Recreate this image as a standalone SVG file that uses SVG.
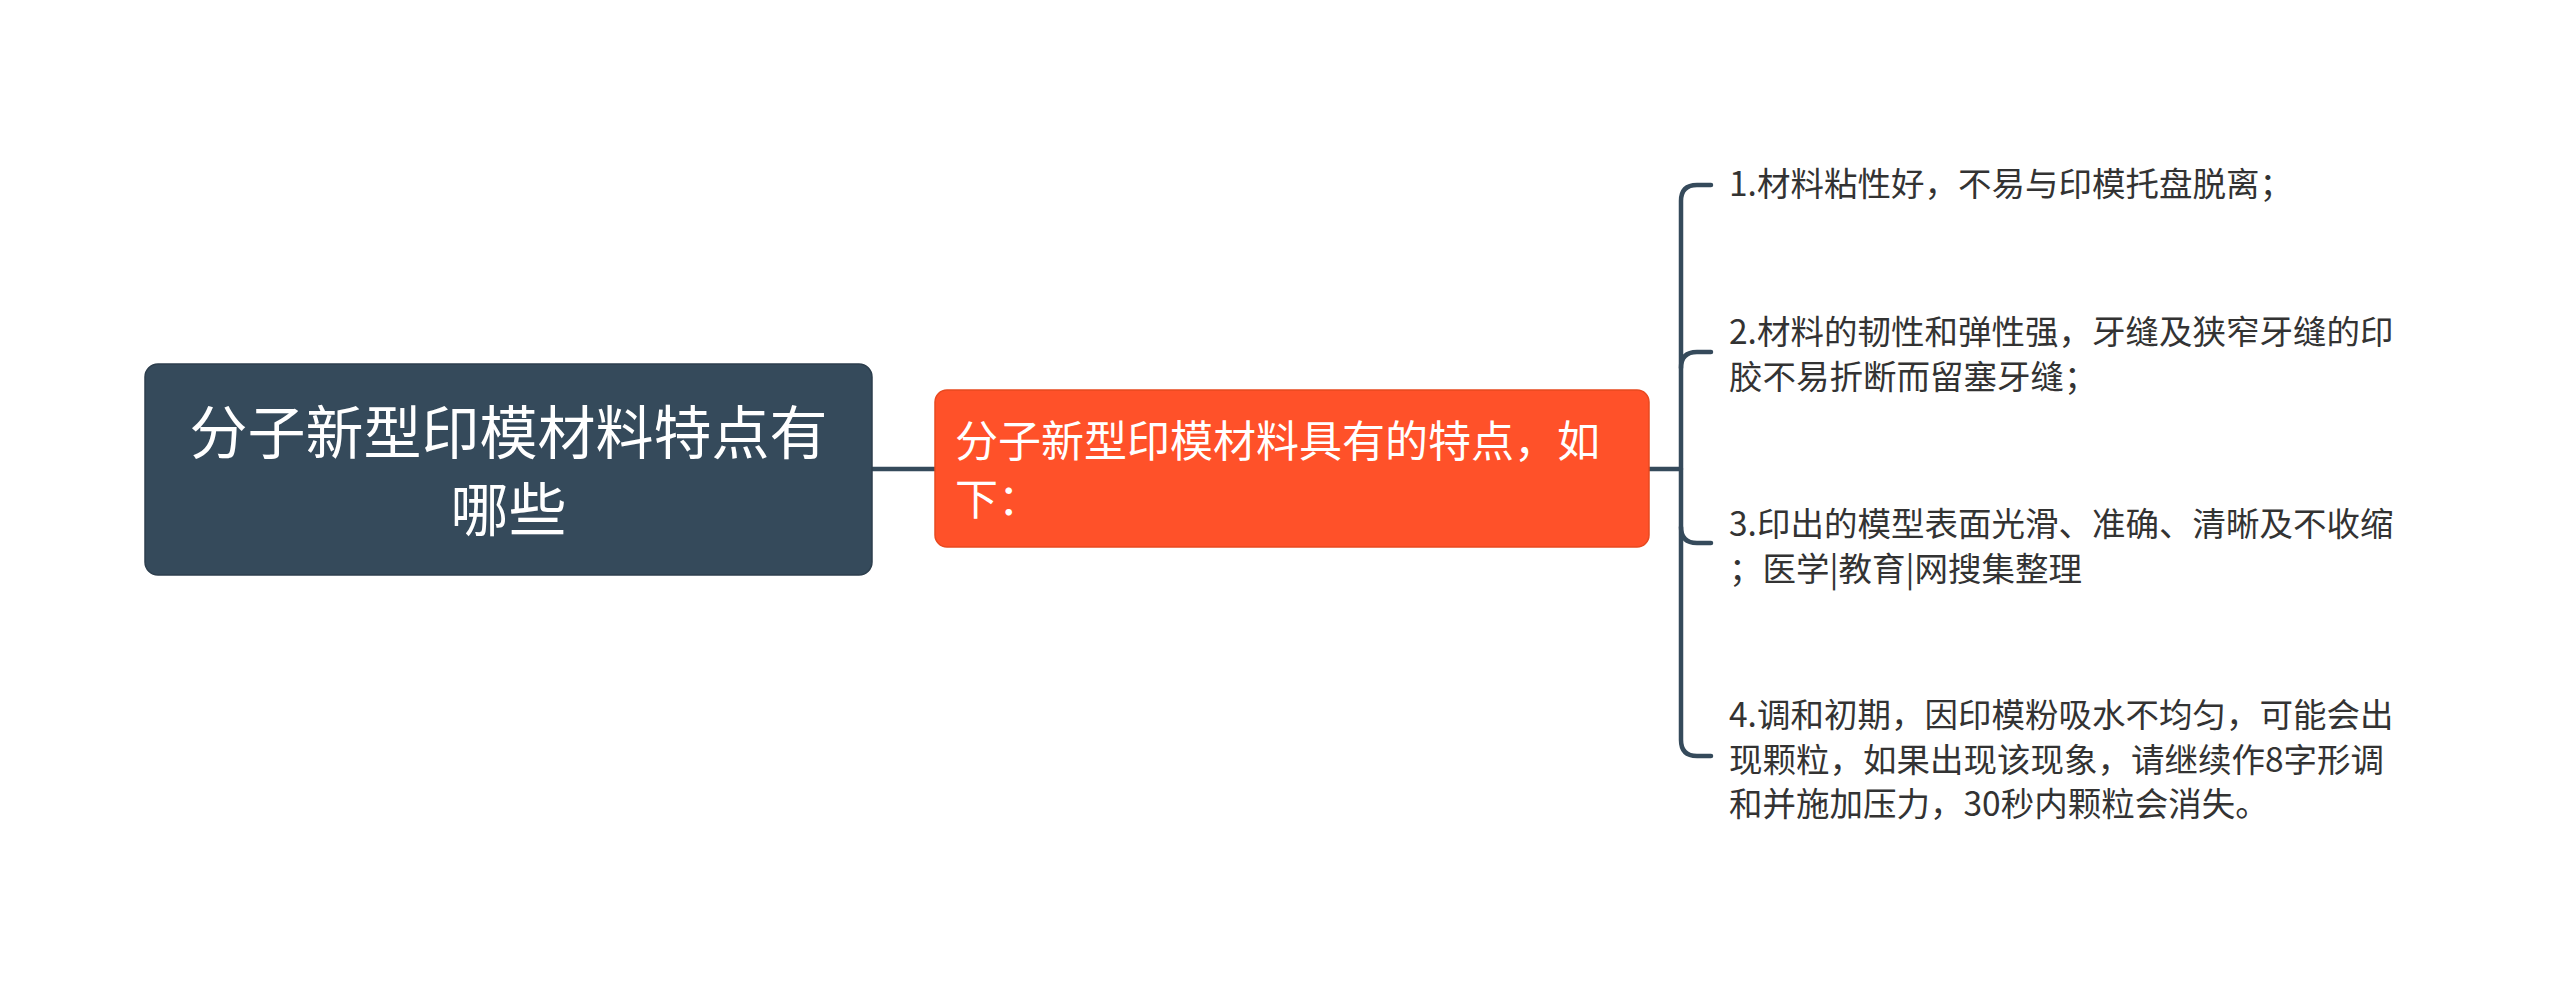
<svg xmlns="http://www.w3.org/2000/svg" width="2560" height="983" viewBox="0 0 2560 983">
<style>
.t{font-family:"Noto Sans CJK SC","Liberation Sans",sans-serif;}
.root{fill:#fff;font-size:58px;}
.mid{fill:#fff;font-size:43px;}
.leaf{fill:#333;font-size:33.5px;}
.ln{fill:none;stroke:#354a5b;stroke-width:4.5;stroke-linecap:round;}
</style>
<rect width="2560" height="983" fill="#fff"/>
<g id="connectors">
<path class="ln" d="M872 469 H935"/>
<path class="ln" d="M1649 469 H1681"/>
<path class="ln" d="M1711 185 H1697 Q1681 185 1681 201 V740 Q1681 756 1697 756 H1711"/>
<path class="ln" d="M1681 368 Q1681 352 1697 352 H1711"/>
<path class="ln" d="M1681 527 Q1681 543 1697 543 H1711"/>
</g>
<g id="root">
<rect x="145" y="364" width="727" height="211" rx="13" fill="#354a5b" stroke="#2c3e4d" stroke-width="1.5"/>
<text class="t root" x="508.5" y="454" text-anchor="middle">分子新型印模材料特点有</text>
<text class="t root" x="508.5" y="531" text-anchor="middle">哪些</text>
</g>
<g id="main">
<rect x="935" y="390" width="714" height="157" rx="12" fill="#ff5129" stroke="#e8491f" stroke-width="1.5"/>
<text class="t mid" x="955" y="457">分子新型印模材料具有的特点，如</text>
<text class="t mid" x="955" y="515">下：</text>
</g>
<g id="item1">
<text class="t leaf" x="1729" y="196">1.材料粘性好，不易与印模托盘脱离；</text>
</g>
<g id="item2">
<text class="t leaf" x="1729" y="344">2.材料的韧性和弹性强，牙缝及狭窄牙缝的印</text>
<text class="t leaf" x="1729" y="389">胶不易折断而留塞牙缝；</text>
</g>
<g id="item3">
<text class="t leaf" x="1729" y="536">3.印出的模型表面光滑、准确、清晰及不收缩</text>
<text class="t leaf" x="1729" y="580.5">；医学|教育|网搜集整理</text>
</g>
<g id="item4">
<text class="t leaf" x="1729" y="727">4.调和初期，因印模粉吸水不均匀，可能会出</text>
<text class="t leaf" x="1729" y="771.5">现颗粒，如果出现该现象，请继续作8字形调</text>
<text class="t leaf" x="1729" y="816">和并施加压力，30秒内颗粒会消失。</text>
</g>
</svg>
